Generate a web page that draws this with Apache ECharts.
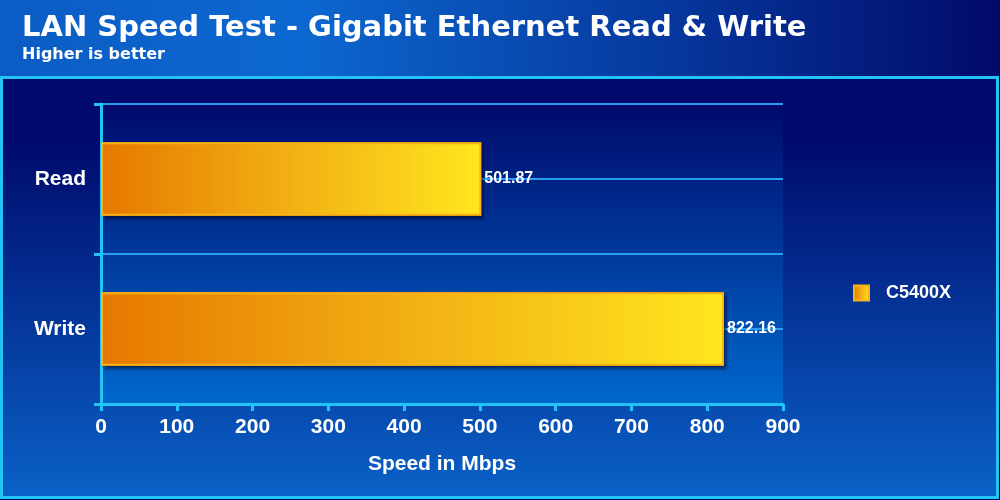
<!DOCTYPE html>
<html>
<head>
<meta charset="utf-8">
<style>html,body{margin:0;padding:0;background:#000a6c}#c{width:1000px;height:500px}</style>
<script src="https://cdn.jsdelivr.net/npm/echarts@6/dist/echarts.min.js"></script>
</head>
<body>
<div id="c"></div>
<script>
var categories = ['Read', 'Write'];
var seriesName = 'C5400X';
var values = [501.87, 822.16];
var axisMin = 0, axisMax = 900, axisStep = 100;
var titleText = 'LAN Speed Test - Gigabit Ethernet Read & Write';
var subText = 'Higher is better';
var axisName = 'Speed in Mbps';

var FONT = '"Liberation Sans", Arial, sans-serif';
var TFONT = '"DejaVu Sans", "Liberation Sans", sans-serif';
var chart = echarts.init(document.getElementById('c'), null, {renderer: 'canvas'});
var barGrad = new echarts.graphic.LinearGradient(0, 0, 1, 0, [
  {offset: 0, color: '#e67800'},
  {offset: 0.5, color: '#f2b014'},
  {offset: 1, color: '#ffe61e'}
]);
chart.setOption({
  backgroundColor: '#000a6c',
  animation: false,
  graphic: {elements: [
    {type: 'rect', z: -100, shape: {x: 0, y: 0, width: 1000, height: 77},
     style: {fill: new echarts.graphic.LinearGradient(0, 0, 1, 0, [
       {offset: 0, color: '#0b5cc4'}, {offset: 0.3, color: '#0c68d0'},
       {offset: 0.65, color: '#063aa0'}, {offset: 1, color: '#020a6a'}])}},
    {type: 'rect', z: -99, shape: {x: 1.5, y: 77.5, width: 996, height: 420},
     style: {fill: new echarts.graphic.LinearGradient(0, 0, 0, 1, [
       {offset: 0, color: '#000a6c'}, {offset: 0.15, color: '#000a6c'},
       {offset: 1, color: '#0a62c8'}]), stroke: '#22c4f6', lineWidth: 3}}
  ]},
  title: {
    text: titleText, subtext: subText, left: 17, top: 9, itemGap: 4,
    textStyle: {color: '#ffffff', fontFamily: TFONT, fontWeight: 'bold', fontSize: 29},
    subtextStyle: {color: '#ffffff', fontFamily: TFONT, fontWeight: 'bold', fontSize: 16}
  },
  legend: {
    left: 848, top: 279, orient: 'vertical', itemWidth: 15, itemHeight: 15, icon: 'rect',
    textStyle: {color: '#ffffff', fontFamily: FONT, fontWeight: 'bold', fontSize: 18, padding: [0, 0, 0, 12]},
    data: [seriesName]
  },
  grid: {
    left: 101, right: 217, top: 104, bottom: 96, show: true, borderWidth: 0,
    backgroundColor: new echarts.graphic.LinearGradient(0, 0, 0, 1, [
      {offset: 0, color: '#000a6c'}, {offset: 1, color: '#0068cc'}])
  },
  xAxis: {
    type: 'value', min: axisMin, max: axisMax, interval: axisStep,
    name: axisName, nameLocation: 'middle', nameGap: 50,
    nameTextStyle: {color: '#ffffff', fontFamily: FONT, fontWeight: 'bold', fontSize: 21},
    axisLine: {show: true, lineStyle: {color: '#22c4f6', width: 3}},
    axisTick: {show: true, length: 7, lineStyle: {color: '#22c4f6', width: 3}},
    axisLabel: {color: '#ffffff', fontFamily: FONT, fontWeight: 'bold', fontSize: 21, margin: 13},
    splitLine: {show: false}
  },
  yAxis: [{
    type: 'category', data: categories, inverse: true,
    axisLine: {show: true, lineStyle: {color: '#22c4f6', width: 3}},
    axisTick: {show: true, length: 7, lineStyle: {color: '#22c4f6', width: 3}},
    axisLabel: {color: '#ffffff', fontFamily: FONT, fontWeight: 'bold', fontSize: 21, margin: 15},
    splitLine: {show: false}
  }, {
    type: 'value', min: 0, max: 4, interval: 1, position: 'right',
    axisLine: {show: false}, axisTick: {show: false}, axisLabel: {show: false},
    splitLine: {show: true, lineStyle: {color: '#2a9ef0', width: 2}}
  }],
  series: [{
    name: 'shadow', type: 'bar', yAxisIndex: 0, data: values, barWidth: '49%', barGap: '-100%',
    silent: true, z: 1,
    itemStyle: {color: '#e67800', shadowColor: 'rgba(0,0,20,0.55)', shadowBlur: 3, shadowOffsetX: 3, shadowOffsetY: 3}
  }, {
    name: seriesName, type: 'bar', yAxisIndex: 0, data: values, barWidth: '49%', barGap: '-100%',
    z: 3,
    itemStyle: {color: barGrad, borderColor: '#f7b416', borderWidth: 2},
    label: {show: true, position: 'right', distance: 3, color: '#ffffff',
      fontFamily: FONT, fontWeight: 'bold', fontSize: 16,
      formatter: function (p) { return p.value.toFixed(2); }}
  }]
});
</script>
</body>
</html>
